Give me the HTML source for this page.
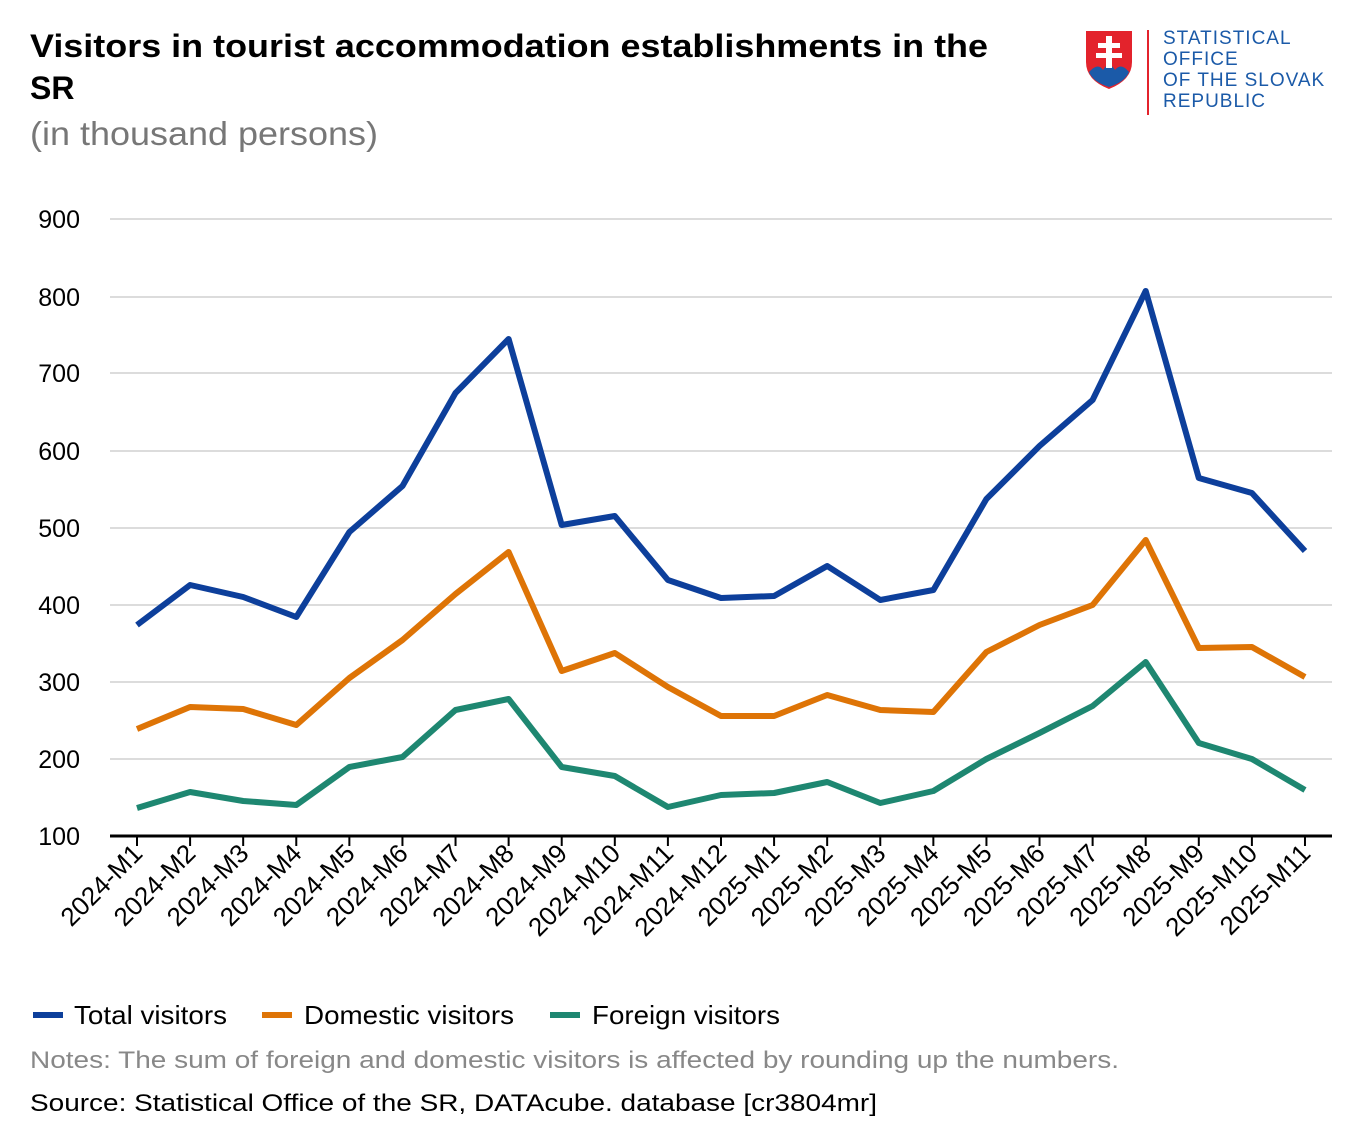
<!DOCTYPE html>
<html><head><meta charset="utf-8"><style>
body{margin:0;background:#fff;width:1362px;height:1140px;overflow:hidden;font-family:"Liberation Sans",Arial,sans-serif}
</style></head><body>
<svg width="1362" height="1140" xmlns="http://www.w3.org/2000/svg" font-family="Liberation Sans, Arial, sans-serif">
<text x="30" y="57" font-size="32" font-weight="bold" fill="#000" textLength="958" lengthAdjust="spacingAndGlyphs">Visitors in tourist accommodation establishments in the</text>
<text x="30" y="99" font-size="32" font-weight="bold" fill="#000">SR</text>
<text x="30" y="145" font-size="33" fill="#777" textLength="348" lengthAdjust="spacingAndGlyphs">(in thousand persons)</text>
<path d="M1086 31 H1132 V62 Q1132 80 1109 89 Q1086 80 1086 62 Z" fill="#e3232c"/>
<path d="M1089 72 Q1098 62 1103 70 Q1109 60 1115 70 Q1121 62 1129 72 Q1125 82 1109 87 Q1093 82 1089 72 Z" fill="#1b5aa8"/>
<path d="M1106 36 h6 v7 h8 v5 h-8 v5 h10 v5 h-10 v10 h-6 v-10 h-10 v-5 h10 v-5 h-8 v-5 h8 z" fill="#fff"/>
<line x1="1148" y1="30" x2="1148" y2="115" stroke="#e3232c" stroke-width="2"/>
<g font-size="19" fill="#1b5aa8" letter-spacing="1">
<text x="1163" y="44">STATISTICAL</text>
<text x="1163" y="65">OFFICE</text>
<text x="1163" y="86">OF THE SLOVAK</text>
<text x="1163" y="107">REPUBLIC</text>
</g>
<g stroke="#dcdcdc" stroke-width="2">
<line x1="110" x2="1332" y1="219" y2="219"/><line x1="110" x2="1332" y1="297" y2="297"/>
<line x1="110" x2="1332" y1="373" y2="373"/><line x1="110" x2="1332" y1="451" y2="451"/>
<line x1="110" x2="1332" y1="528" y2="528"/><line x1="110" x2="1332" y1="605" y2="605"/>
<line x1="110" x2="1332" y1="682" y2="682"/><line x1="110" x2="1332" y1="759" y2="759"/>
</g>
<line x1="110" x2="1332" y1="836" y2="836" stroke="#000" stroke-width="3"/>
<g font-size="25" fill="#000" text-anchor="end">
<text x="80" y="228">900</text><text x="80" y="306">800</text><text x="80" y="382">700</text>
<text x="80" y="460">600</text><text x="80" y="537">500</text><text x="80" y="614">400</text>
<text x="80" y="691">300</text><text x="80" y="768">200</text><text x="80" y="845">100</text>
</g>
<g id="ticks" font-size="26" fill="#000" text-anchor="end"></g>
<polyline id="t" fill="none" stroke="#0d3f9b" stroke-width="6" stroke-linejoin="round"/>
<polyline id="d" fill="none" stroke="#de7406" stroke-width="6" stroke-linejoin="round"/>
<polyline id="f" fill="none" stroke="#1e8771" stroke-width="6" stroke-linejoin="round"/>
<line x1="33" x2="63" y1="1015" y2="1015" stroke="#0d3f9b" stroke-width="6"/>
<text x="74" y="1024" font-size="26" textLength="153" lengthAdjust="spacingAndGlyphs">Total visitors</text>
<line x1="262" x2="292" y1="1015" y2="1015" stroke="#de7406" stroke-width="6"/>
<text x="304" y="1024" font-size="26" textLength="210" lengthAdjust="spacingAndGlyphs">Domestic visitors</text>
<line x1="550" x2="580" y1="1015" y2="1015" stroke="#1e8771" stroke-width="6"/>
<text x="592" y="1024" font-size="26" textLength="188" lengthAdjust="spacingAndGlyphs">Foreign visitors</text>
<text x="30" y="1068" font-size="24" fill="#888" textLength="1089" lengthAdjust="spacingAndGlyphs">Notes: The sum of foreign and domestic visitors is affected by rounding up the numbers.</text>
<text x="30" y="1111" font-size="24" fill="#000" textLength="847" lengthAdjust="spacingAndGlyphs">Source: Statistical Office of the SR, DATAcube. database [cr3804mr]</text>
</svg>
<script>
var T=[625,585,597,617,532,486,393,339,525,516,580,598,596,566,600,590,499,446,400,291,478,493,551];
var D=[729,707,709,725,678,640,594,552,671,653,687,716,716,695,710,712,652,625,605,540,648,647,677];
var F=[808,792,801,805,767,757,710,699,767,776,807,795,793,782,803,791,759,733,706,662,743,759,790];
function X(i){return 137+i*53.09;}
function pts(a){return a.map(function(y,i){return X(i).toFixed(1)+","+y}).join(" ");}
document.getElementById("t").setAttribute("points",pts(T));
document.getElementById("d").setAttribute("points",pts(D));
document.getElementById("f").setAttribute("points",pts(F));
var g=document.getElementById("ticks"),s="";
for(var i=0;i<23;i++){var yr=i<12?2024:2025,m=i<12?i+1:i-11,x=X(i);
s+='<line x1="'+x+'" x2="'+x+'" y1="836" y2="846" stroke="#000" stroke-width="2"/>';
s+='<text transform="translate('+(x+7)+',855) rotate(-45)">'+yr+'-M'+m+'</text>';}
g.innerHTML=s;
</script>
</body></html>
